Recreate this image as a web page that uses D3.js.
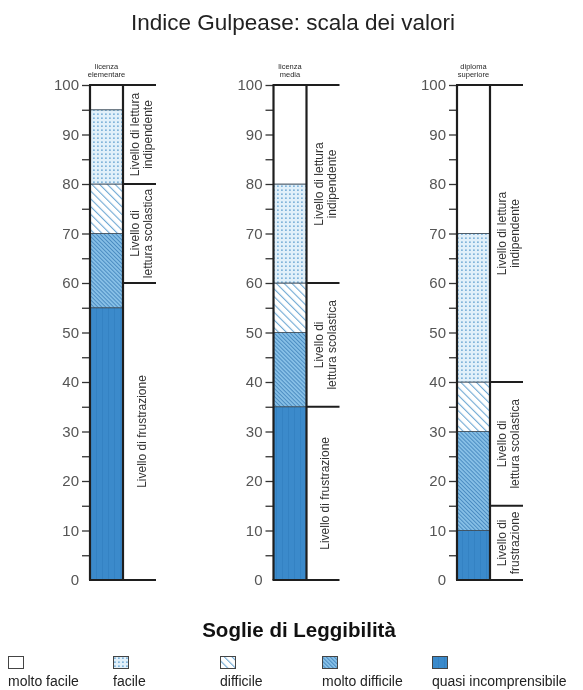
<!DOCTYPE html>
<html>
<head>
<meta charset="utf-8">
<script src="https://cdn.jsdelivr.net/npm/d3@7/dist/d3.min.js"></script>
<style>
html,body{margin:0;padding:0;background:#fff;}
svg{display:block;font-family:Arial,"Liberation Sans",sans-serif;will-change:transform;}
</style>
</head>
<body>
<svg id="chart" width="583" height="690"></svg>
<script>
// ---- data ----
const title = "Indice Gulpease: scala dei valori";
const legendTitle = "Soglie di Leggibilità";
const panelHeaders = [["licenza","elementare"],["licenza","media"],["diploma","superiore"]];
const categories = ["quasi incomprensibile","molto difficile","difficile","facile","molto facile"];
const legendOrder = ["molto facile","facile","difficile","molto difficile","quasi incomprensibile"];
// boundaries of the readability bands (bottom to top) for each panel
const bandsElementare = [0,55,70,80,95,100];
const bandsMedia      = [0,35,50,60,80,100];
const bandsSuperiore  = [0,10,30,40,70,100];
// reading-level boundaries for each panel
const levelsElementare = [0,60,80,100];
const levelsMedia      = [0,35,60,100];
const levelsSuperiore  = [0,15,40,100];
const levelLabels = [
  [["Livello di frustrazione"],["Livello di","lettura scolastica"],["Livello di lettura","indipendente"]],
  [["Livello di frustrazione"],["Livello di","lettura scolastica"],["Livello di lettura","indipendente"]],
  [["Livello di","frustrazione"],["Livello di","lettura scolastica"],["Livello di lettura","indipendente"]]
];
const majorTicks = [0,10,20,30,40,50,60,70,80,90,100];
const minorTicks = [5,15,25,35,45,55,65,75,85,95];

const bands = [bandsElementare, bandsMedia, bandsSuperiore];
const levels = [levelsElementare, levelsMedia, levelsSuperiore];

// ---- layout ----
const svg = d3.select("#chart");
const y = d3.scaleLinear().domain([0,100]).range([580,85]);
const panelX = d3.scaleOrdinal().domain([0,1,2]).range([90,273.5,457]);
const barW = 33, extW = 33;

const defs = svg.append("defs");
// facile: light blue with dots
const pF = defs.append("pattern").attr("id","pFacile").attr("patternUnits","userSpaceOnUse").attr("width",4).attr("height",4);
pF.append("rect").attr("width",4).attr("height",4).attr("fill","#e1f0fa");
pF.append("rect").attr("x",1).attr("y",1.5).attr("width",1.8).attr("height",1.3).attr("fill","#6aa6d3");
// difficile: white with diagonal lines (top-left to bottom-right)
const pD = defs.append("pattern").attr("id","pDifficile").attr("patternUnits","userSpaceOnUse").attr("width",5.5).attr("height",5.5).attr("patternTransform","rotate(-45)");
pD.append("rect").attr("width",5.5).attr("height",5.5).attr("fill","#ffffff");
pD.append("line").attr("x1",0).attr("y1",0).attr("x2",0).attr("y2",5.5).attr("stroke","#6fa9d4").attr("stroke-width",2.2);
// molto difficile: blue with dense diagonal lines
const pMD = defs.append("pattern").attr("id","pMoltoDifficile").attr("patternUnits","userSpaceOnUse").attr("width",2.8).attr("height",2.8).attr("patternTransform","rotate(-45)");
pMD.append("rect").attr("width",2.8).attr("height",2.8).attr("fill","#86bfe6");
pMD.append("line").attr("x1",0).attr("y1",0).attr("x2",0).attr("y2",2.8).attr("stroke","#2f74b1").attr("stroke-width",1.3);
// quasi incomprensibile: solid blue with faint stripes
const pQ = defs.append("pattern").attr("id","pQuasi").attr("patternUnits","userSpaceOnUse").attr("width",6).attr("height",6);
pQ.append("rect").attr("width",6).attr("height",6).attr("fill","#3b8acb");
pQ.append("line").attr("x1",0.5).attr("y1",0).attr("x2",0.5).attr("y2",6).attr("stroke","#3482c3").attr("stroke-width",1);

const fills = {
  "quasi incomprensibile":"url(#pQuasi)",
  "molto difficile":"url(#pMoltoDifficile)",
  "difficile":"url(#pDifficile)",
  "facile":"url(#pFacile)",
  "molto facile":"#ffffff"
};

// title
svg.append("text").attr("x",293).attr("y",30).attr("text-anchor","middle")
  .attr("font-size",22.5).attr("fill","#222").text(title);

bands.forEach((b,pi)=>{
  const x0 = panelX(pi);
  const g = svg.append("g");
  // header
  g.append("text").attr("text-anchor","middle").attr("font-size",7.5).attr("fill","#2a2a2a")
    .selectAll("tspan").data(panelHeaders[pi]).join("tspan")
    .attr("x",x0+barW/2).attr("y",(d,i)=>69+i*8).text(d=>d);
  // segments
  const segs = categories.map((c,i)=>({cat:c,lo:b[i],hi:b[i+1]}));
  g.selectAll("rect.seg").data(segs).join("rect").attr("class","seg")
    .attr("x",x0).attr("width",barW)
    .attr("y",d=>y(d.hi)).attr("height",d=>y(d.lo)-y(d.hi))
    .attr("fill",d=>fills[d.cat]).attr("stroke","#3a4a58").attr("stroke-width",0.8);
  // axis
  const axMajor = d3.axisLeft(y).tickValues(majorTicks).tickSize(8).tickPadding(3);
  const ag = g.append("g").attr("transform",`translate(${x0},0)`).call(axMajor);
  ag.select(".domain").remove();
  ag.selectAll(".tick line").attr("stroke","#333").attr("stroke-width",1.3)
    .filter(d=>d===0).remove();
  ag.selectAll(".tick text").attr("font-size",15).attr("fill","#555").attr("font-family","Arial,'Liberation Sans',sans-serif");
  const mg = g.append("g").attr("transform",`translate(${x0},0)`).call(d3.axisLeft(y).tickValues(minorTicks).tickSize(8).tickFormat(""));
  mg.select(".domain").remove();
  mg.selectAll(".tick line").attr("stroke","#333").attr("stroke-width",1.3);
  // vertical bar borders
  g.append("line").attr("x1",x0).attr("x2",x0).attr("y1",y(100)).attr("y2",y(0)).attr("stroke","#1e1e1e").attr("stroke-width",2.2);
  g.append("line").attr("x1",x0+barW).attr("x2",x0+barW).attr("y1",y(100)).attr("y2",y(0)).attr("stroke","#1e1e1e").attr("stroke-width",2.2);
  // top and bottom lines
  g.selectAll("line.tb").data([0,100]).join("line").attr("class","tb")
    .attr("x1",x0-1).attr("x2",x0+barW+extW).attr("y1",d=>y(d)).attr("y2",d=>y(d))
    .attr("stroke","#1e1e1e").attr("stroke-width",2);
  // level lines
  const lv = levels[pi];
  g.selectAll("line.lvl").data(lv.slice(1,-1)).join("line").attr("class","lvl")
    .attr("x1",x0+barW).attr("x2",x0+barW+extW).attr("y1",d=>y(d)).attr("y2",d=>y(d))
    .attr("stroke","#1e1e1e").attr("stroke-width",2);
  // level labels
  const lvData = levelLabels[pi].map((lines,i)=>({lines,lo:lv[i],hi:lv[i+1]}));
  lvData.forEach(d=>{
    const cy = (y(d.lo)+y(d.hi))/2, cx = x0+barW+extW/2+2;
    const t = g.append("text").attr("transform",`translate(${cx},${cy}) rotate(-90)`)
      .attr("text-anchor","middle").attr("font-size",12).attr("fill","#333");
    const n = d.lines.length, lh = 13;
    t.selectAll("tspan").data(d.lines).join("tspan")
      .attr("x",0).attr("y",(s,i)=>(i-(n-1)/2)*lh).attr("dy","0.35em").text(s=>s);
  });
});

// legend
svg.append("text").attr("x",299).attr("y",637).attr("text-anchor","middle")
  .attr("font-size",20.5).attr("font-weight","bold").attr("fill","#111").text(legendTitle);
const legX = d3.scaleOrdinal().domain(legendOrder).range([8,113,220,322,432]);
const lg = svg.append("g").selectAll("g").data(legendOrder).join("g")
  .attr("transform",d=>`translate(${legX(d)},0)`);
lg.append("rect").attr("x",0.5).attr("y",656.5).attr("width",15).attr("height",12)
  .attr("fill",d=>fills[d]).attr("stroke","#444").attr("stroke-width",1);
lg.append("text").attr("x",0).attr("y",686).attr("font-size",14).attr("fill","#222").text(d=>d);
</script>
</body>
</html>
